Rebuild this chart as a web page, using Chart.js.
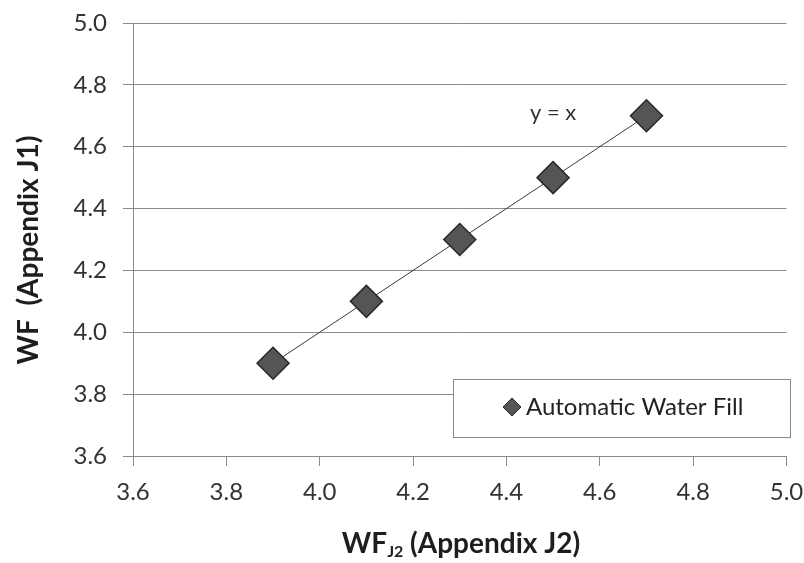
<!DOCTYPE html>
<html>
<head>
<meta charset="utf-8">
<script src="https://cdn.jsdelivr.net/npm/chart.js@4.4.0/dist/chart.umd.min.js"></script>
<style>
html,body{margin:0;padding:0;background:#fff;}
#wrap{width:804px;height:563px;position:relative;}
</style>
</head>
<body>
<div id="wrap"><canvas id="c"></canvas></div>
<script>
const seriesName = "Automatic Water Fill";
const xValues = [3.9, 4.1, 4.3, 4.5, 4.7];
const yValues = [3.9, 4.1, 4.3, 4.5, 4.7];
const axisMin = 3.6, axisMax = 5.0, axisStep = 0.2;
const yTitle = "WF  (Appendix J1)";
const xTitleMain = "WF", xTitleSub = "J2", xTitleRest = " (Appendix J2)";
const lineNote = "y = x";
const noteX = 4.50, noteY = 4.71;

const FONT = "Lato, 'Open Sans', sans-serif";

const overlay = {
  id: 'overlay',
  afterDraw(chart) {
    const ctx = chart.ctx;
    const xs = chart.scales.x, ys = chart.scales.y;
    ctx.save();
    ctx.fillStyle = '#1e1e1e';
    ctx.font = "bold 28px " + FONT;
    ctx.translate(29, 250);
    ctx.rotate(-Math.PI / 2);
    ctx.textAlign = 'center';
    ctx.textBaseline = 'middle';
    ctx.fillText(yTitle, 0, 0);
    ctx.restore();

    ctx.save();
    ctx.fillStyle = '#1e1e1e';
    const fMain = "bold 28px " + FONT, fSub = "bold 16px " + FONT;
    ctx.font = fMain; const w1 = ctx.measureText(xTitleMain).width; const w3 = ctx.measureText(xTitleRest).width;
    ctx.font = fSub; const w2 = ctx.measureText(xTitleSub).width;
    const total = w1 + w2 + w3;
    let x0 = 461 - total / 2;
    const base = 553;
    ctx.textBaseline = 'alphabetic';
    ctx.textAlign = 'left';
    ctx.font = fMain; ctx.fillText(xTitleMain, x0, base);
    ctx.font = fSub; ctx.fillText(xTitleSub, x0 + w1, base + 4);
    ctx.font = fMain; ctx.fillText(xTitleRest, x0 + w1 + w2, base);
    ctx.restore();

    ctx.save();
    ctx.fillStyle = '#333';
    ctx.font = "22px " + FONT;
    ctx.textAlign = 'center';
    ctx.textBaseline = 'middle';
    ctx.fillText(lineNote, xs.getPixelForValue(noteX), ys.getPixelForValue(noteY));
    ctx.restore();

    ctx.save();
    const bx = 453, by = 379, bw = 337, bh = 58;
    ctx.fillStyle = '#fff';
    ctx.fillRect(bx, by, bw, bh);
    ctx.strokeStyle = '#8a8a8a';
    ctx.lineWidth = 1;
    ctx.strokeRect(bx + 0.5, by + 0.5, bw, bh);
    const ds = chart.data.datasets[0];
    const mx = 512, my = 407, r = 9;
    ctx.beginPath();
    ctx.moveTo(mx - r, my); ctx.lineTo(mx, my - r); ctx.lineTo(mx + r, my); ctx.lineTo(mx, my + r); ctx.closePath();
    ctx.fillStyle = ds.pointBackgroundColor; ctx.fill();
    ctx.strokeStyle = ds.pointBorderColor; ctx.lineWidth = 1; ctx.stroke();
    ctx.fillStyle = '#222';
    ctx.font = "24px " + FONT;
    ctx.textAlign = 'left';
    ctx.textBaseline = 'middle';
    ctx.fillText(ds.label, 526, my);
    ctx.restore();
  }
};

function buildTicks(s) {
  const t = [];
  for (let i = 0; i <= 7; i++) t.push({value: +(axisMin + i * axisStep).toFixed(1)});
  s.ticks = t;
}

new Chart(document.getElementById('c'), {
  type: 'scatter',
  data: {
    datasets: [{
      label: seriesName,
      data: xValues.map((x, i) => ({x: x, y: yValues[i]})),
      showLine: true,
      borderColor: '#3a3a3a',
      borderWidth: 1,
      pointStyle: 'rectRot',
      pointRadius: 16,
      pointHoverRadius: 16,
      pointBackgroundColor: '#555555',
      pointBorderColor: '#2a2a2a',
      pointBorderWidth: 1.5
    }]
  },
  options: {
    responsive: true,
    maintainAspectRatio: false,
    animation: false,
    layout: {padding: 0},
    plugins: {legend: {display: false}, tooltip: {enabled: false}},
    scales: {
      x: {
        type: 'linear', min: axisMin, max: axisMax,
        afterFit(s) { s.height = 107; s.paddingLeft = 0; s.paddingRight = 16; },
        afterBuildTicks: buildTicks,
        ticks: {stepSize: axisStep, padding: 12, color: '#333', font: {family: FONT, size: 24}, callback: v => v.toFixed(1), maxRotation: 0, autoSkip: false},
        grid: {drawOnChartArea: false, drawTicks: true, tickLength: 10, color: '#8a8a8a'},
        border: {display: true, color: '#8a8a8a'}
      },
      y: {
        type: 'linear', min: axisMin, max: axisMax,
        afterFit(s) { s.width = 133; s.paddingTop = 23; s.paddingBottom = 0; },
        afterBuildTicks: buildTicks,
        ticks: {stepSize: axisStep, padding: 16, color: '#333', font: {family: FONT, size: 24}, callback: v => v.toFixed(1), autoSkip: false},
        grid: {drawOnChartArea: true, drawTicks: true, tickLength: 10, color: '#8a8a8a'},
        border: {display: true, color: '#8a8a8a'}
      }
    }
  },
  plugins: [overlay]
});
</script>
</body>
</html>
